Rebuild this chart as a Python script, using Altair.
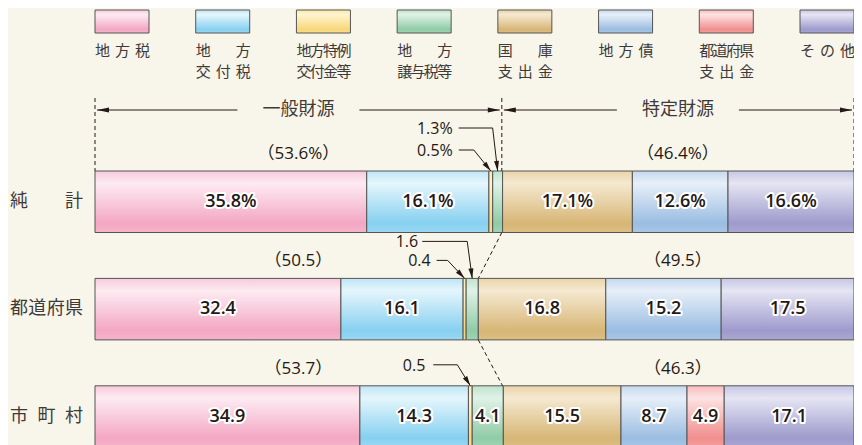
import math
import altair as alt
import pandas as pd

# ---------------- data ----------------
row_names = ["純計", "都道府県", "市町村"]
categories = ["地方税", "地方交付税", "地方特例交付金等", "地方譲与税等",
              "国庫支出金", "地方債", "都道府県支出金", "その他"]
legend_line1 = ["地方税", "地方", "地方特例", "地方", "国庫", "地方債", "都道府県", "その他"]
legend_line2 = ["", "交付税", "交付金等", "譲与税等", "支出金", "", "支出金", ""]
values_total = [35.8, 16.1, 0.5, 1.3, 17.1, 12.6, 0.0, 16.6]
values_pref = [32.4, 16.1, 0.4, 1.6, 16.8, 15.2, 0.0, 17.5]
values_muni = [34.9, 14.3, 0.5, 4.1, 15.5, 8.7, 4.9, 17.1]
general_share = [53.6, 50.5, 53.7]
general_labels = ["（53.6%）", "（50.5）", "（53.7）"]
specific_labels = ["（46.4%）", "（49.5）", "（46.3）"]
section_titles = ["一般財源", "特定財源"]
callout_rows = [0, 0, 1, 1, 2]
callout_cats = [3, 2, 3, 2, 2]
callout_texts = ["1.3%", "0.5%", "1.6", "0.4", "0.5"]

# ---------------- layout / style ----------------
PLOT_W = 759
PLOT_H = 437
LEFT_PAD = 87
PX_PER_PCT = PLOT_W / 100.0
ROW_PX = 107.4
BAR_PX = 61.5
ROW0_TOP_PX = 163.0
INK = "#231815"
GRAY = "#3e3a39"
BG = "#f8f5ea"
NUM_FONT = "Open Sans"
JP_FONT = "Noto Sans CJK JP"
LEG_FS = 15
ROW_FS = 18
SWATCH_PX = 54

# callout layout: line dy above bar top, elbow dx, tail dx, text dx (px, relative to tip)
callout_layout = [(-43, -5, -39, -45), (-21, -17, -32, -38), (-37, -5, -50, -54),
                  (-18, -17, -28, -34), (-21, -13, -37, -45)]

grad_colors = [
    ("#f8cadb", "#fdebf2", "#f3a7c2", "#f5b4cb"),
    ("#bfe5f6", "#e5f6fc", "#86d0f0", "#9bd8f2"),
    ("#fde9a8", "#fff5d0", "#f8d77a", "#f9de90"),
    ("#bfe3cc", "#e0f2e7", "#8fcba6", "#a2d4b4"),
    ("#ead4a8", "#f5e9d1", "#d7b676", "#dcbf85"),
    ("#c5d8ef", "#e7eff8", "#9bbde2", "#a9c6e6"),
    ("#f9bcbc", "#fde2e2", "#f18e8e", "#f3a0a0"),
    ("#c7c6e6", "#e5e5f3", "#9e9acc", "#aca8d3"),
]


def gradient(c):
    return alt.Gradient(
        gradient="linear", x1=0, y1=0, x2=0, y2=1,
        stops=[alt.GradientStop(offset=0, color=c[0]),
               alt.GradientStop(offset=0.2, color=c[1]),
               alt.GradientStop(offset=0.85, color=c[2]),
               alt.GradientStop(offset=1, color=c[3])],
    )


def dx(px):
    return px / PX_PER_PCT


def dy(px):
    return px / ROW_PX


def top(r):
    return r - dy(BAR_PX / 2)


def bottom(r):
    return r + dy(BAR_PX / 2)


def justify(text, left, width_px, fs, y):
    """Spread the characters of text evenly over width_px (Japanese justified labels)."""
    out = []
    n = len(text)
    if n == 0:
        return out
    if n == 1:
        return [dict(x=left + dx(width_px / 2), y=y, c=text)]
    step = (width_px - fs) / (n - 1)
    for i, ch in enumerate(text):
        out.append(dict(x=left + dx(fs / 2 + i * step), y=y, c=ch))
    return out


Y0 = -(ROW0_TOP_PX + BAR_PX / 2) / ROW_PX
Y1 = (PLOT_H - ROW0_TOP_PX - BAR_PX / 2) / ROW_PX
XS = alt.Scale(domain=[0, 100], nice=False, zero=False)
YS = alt.Scale(domain=[Y0, Y1], nice=False, zero=False, reverse=True)


def X(f):
    return alt.X(f, type="quantitative", scale=XS, axis=None)


def Yc(f):
    return alt.Y(f, type="quantitative", scale=YS, axis=None)


# ---------------- tables ----------------
all_values = [values_total, values_pref, values_muni]
rect_rows, label_rows, seg = [], [], {}
for r, vals in enumerate(all_values):
    start = 0.0
    for k, v in enumerate(vals):
        if v > 0:
            rect_rows.append(dict(cat=k, x0=start, x1=start + v, y0=top(r), y1=bottom(r)))
            seg[(r, k)] = (start, start + v)
            if v >= 4:
                label_rows.append(dict(x=start + v / 2, y=r,
                                       t=(f"{v}%" if r == 0 else f"{v}")))
        start += v

sw = dx(SWATCH_PX)
leg_left = [k * (100 - sw) / 7 for k in range(len(categories))]
for k in range(len(categories)):
    rect_rows.append(dict(cat=k, x0=leg_left[k], x1=leg_left[k] + sw,
                          y0=top(0) + dy(-161), y1=top(0) + dy(-138)))
rects = pd.DataFrame(rect_rows)
labels = pd.DataFrame(label_rows)

leg_chars = []
for k in range(len(categories)):
    leg_chars += justify(legend_line1[k], leg_left[k], SWATCH_PX + 1, LEG_FS, top(0) + dy(-120))
    leg_chars += justify(legend_line2[k], leg_left[k], SWATCH_PX + 1, LEG_FS, top(0) + dy(-99))
leg_chars = pd.DataFrame(leg_chars)

row_chars = []
for r, name in enumerate(row_names):
    row_chars += justify(name, dx(-12 - 73), 73, ROW_FS, r)
row_chars = pd.DataFrame(row_chars)

g0 = general_share[0]
centers = [g0 / 2, (g0 + 100) / 2]
head_y = top(0) + dy(-61)
titles = pd.DataFrame(dict(x=centers, y=[head_y] * 2, t=section_titles))

pct_rows = []
for r in range(3):
    pct_rows.append(dict(x=centers[0], y=top(r) + dy(-17), t=general_labels[r]))
    pct_rows.append(dict(x=centers[1], y=top(r) + dy(-17), t=specific_labels[r]))
pcts = pd.DataFrame(pct_rows)

# header lines + arrowheads
hl = [
    dict(x=dx(2), x2=centers[0] - dx(61), y=head_y, y2=head_y),
    dict(x=centers[0] + dx(61), x2=g0 - dx(2), y=head_y, y2=head_y),
    dict(x=g0 + dx(2), x2=centers[1] - dx(61), y=head_y, y2=head_y),
    dict(x=centers[1] + dx(61), x2=100 - dx(2), y=head_y, y2=head_y),
]
heads = [
    dict(x=dx(2), y=head_y, a=180), dict(x=g0 - dx(2), y=head_y, a=0),
    dict(x=g0 + dx(2), y=head_y, a=180), dict(x=100 - dx(2), y=head_y, a=0),
]
solid_lines = list(hl)

# callouts
call_text = []
small_heads = []
for i, (r, k, t) in enumerate(zip(callout_rows, callout_cats, callout_texts)):
    a, b = seg[(r, k)]
    tipx = (a + b) / 2
    tipy = top(r)
    ldy, edx, tdx, txdx = callout_layout[i]
    ly = tipy + dy(ldy)
    solid_lines.append(dict(x=tipx + dx(tdx), x2=tipx + dx(edx), y=ly, y2=ly))
    solid_lines.append(dict(x=tipx + dx(edx), x2=tipx, y=ly, y2=tipy))
    ang = math.degrees(math.atan2(-ldy, -edx)) % 360
    small_heads.append(dict(x=tipx, y=tipy, a=ang))
    call_text.append(dict(x=tipx + dx(txdx), y=ly + dy(1), t=t))

lines = pd.DataFrame(solid_lines)
heads_df = pd.DataFrame(heads)
small_heads_df = pd.DataFrame(small_heads)
call_df = pd.DataFrame(call_text)

dash_rows = [dict(x=v, x2=v, y=top(0) + dy(-73), y2=top(0)) for v in [0, g0, 100]]
for r in range(2):
    dash_rows.append(dict(x=general_share[r], x2=general_share[r + 1], y=bottom(r), y2=top(r + 1)))
dashes = pd.DataFrame(dash_rows)

# ---------------- layers ----------------
layers = []
for k in range(len(categories)):
    layers.append(
        alt.Chart(rects[rects["cat"] == k]).mark_rect(
            fill=gradient(grad_colors[k]), stroke="#555555", strokeWidth=1
        ).encode(x=X("x0"), x2="x1", y=Yc("y0"), y2="y1")
    )

layers.append(alt.Chart(dashes).mark_rule(color=INK, strokeWidth=1, strokeDash=[4, 3]).encode(
    x=X("x"), x2="x2", y=Yc("y"), y2="y2"))
layers.append(alt.Chart(lines).mark_rule(color=INK, strokeWidth=1).encode(
    x=X("x"), x2="x2", y=Yc("y"), y2="y2"))
layers.append(alt.Chart(heads_df).mark_point(
    shape="M0,0L-2,-0.42L-2,0.42Z", filled=True, size=144, color=INK, opacity=1
).encode(x=X("x"), y=Yc("y"), angle=alt.Angle("a:Q", scale=None)))
layers.append(alt.Chart(small_heads_df).mark_point(
    shape="M0,0L-2,-0.5L-2,0.5Z", filled=True, size=100, color=INK, opacity=1
).encode(x=X("x"), y=Yc("y"), angle=alt.Angle("a:Q", scale=None)))

# bar labels with white halo
layers.append(alt.Chart(labels).mark_text(
    font=NUM_FONT, fontSize=18, fontWeight=600, color="white", stroke="white",
    strokeWidth=4, strokeJoin="round", baseline="middle"
).encode(x=X("x"), y=Yc("y"), text="t:N"))
layers.append(alt.Chart(labels).mark_text(
    font=NUM_FONT, fontSize=18, fontWeight=600, color=INK, baseline="middle"
).encode(x=X("x"), y=Yc("y"), text="t:N"))

layers.append(alt.Chart(leg_chars).mark_text(
    font=JP_FONT, fontSize=LEG_FS, color=GRAY, align="center", baseline="middle"
).encode(x=X("x"), y=Yc("y"), text="c:N"))
layers.append(alt.Chart(row_chars).mark_text(
    font=JP_FONT, fontSize=ROW_FS, color=GRAY, align="center", baseline="middle"
).encode(x=X("x"), y=Yc("y"), text="c:N"))
layers.append(alt.Chart(titles).mark_text(
    font=JP_FONT, fontSize=18, color=GRAY, align="center", baseline="middle"
).encode(x=X("x"), y=Yc("y"), text="t:N"))
layers.append(alt.Chart(pcts).mark_text(
    font=f"{NUM_FONT}, {JP_FONT}", fontSize=17, color=INK, align="center", baseline="middle"
).encode(x=X("x"), y=Yc("y"), text="t:N"))
layers.append(alt.Chart(call_df).mark_text(
    font=NUM_FONT, fontSize=16, color=INK, align="right", baseline="middle"
).encode(x=X("x"), y=Yc("y"), text="t:N"))

chart = alt.layer(*layers).properties(
    width=PLOT_W, height=PLOT_H,
    autosize=alt.AutoSizeParams(type="none"),
    padding={"left": LEFT_PAD, "top": 0, "right": 0, "bottom": 0},
    background=BG,
).configure_view(strokeWidth=0)

chart.save("out.html", embed_options={"renderer": "svg", "actions": False})
